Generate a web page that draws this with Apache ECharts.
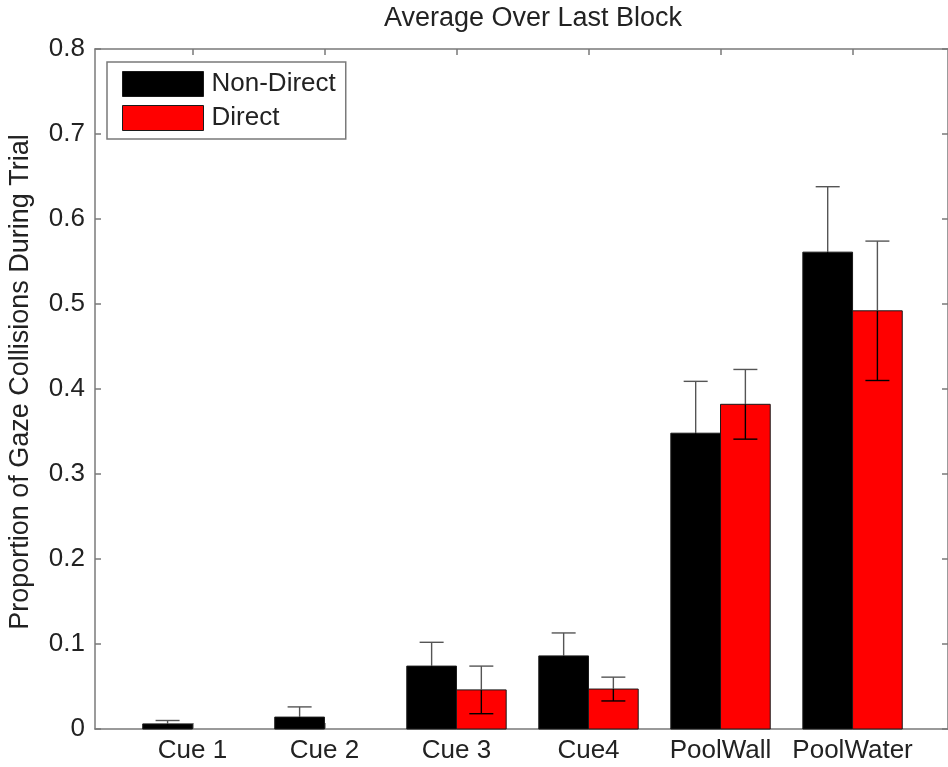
<!DOCTYPE html>
<html><head><meta charset="utf-8">
<script src="https://cdn.jsdelivr.net/npm/echarts@6/dist/echarts.min.js"></script>
<style>html,body{margin:0;padding:0;background:#fff}#c{width:948px;height:767px}</style>
</head><body><div id="c"></div>
<script>
const categories = ['Cue 1', 'Cue 2', 'Cue 3', 'Cue4', 'PoolWall', 'PoolWater'];
const nonDirect = [0.006, 0.014, 0.074, 0.086, 0.348, 0.561];
const nonDirectErr = [0.004, 0.012, 0.028, 0.027, 0.061, 0.077];
const direct = [0, 0, 0.046, 0.047, 0.382, 0.492];
const directErr = [0, 0, 0.028, 0.014, 0.041, 0.082];
const yTicks = [0, 0.1, 0.2, 0.3, 0.4, 0.5, 0.6, 0.7, 0.8];

const FONT = '"Liberation Sans", Arial, sans-serif';
const AX = '#7a7a7a';
const TXT = '#222';
const HALF = 0.3765;
const catPos = categories.map((c, i) => i + 1);

const chart = echarts.init(document.getElementById('c'), null, {renderer: 'canvas'});

function barSeries(name, values, side, color) {
  return {
    type: 'custom', name, xAxisIndex: 0, yAxisIndex: 0, z: 3,
    itemStyle: {color},
    data: values.map((v, i) => [i + 1, v]),
    encode: {x: 0, y: 1},
    renderItem: (params, api) => {
      const c = api.value(0), v = api.value(1);
      if (!v) return null;
      const x0 = side < 0 ? c - HALF : c, x1 = side < 0 ? c : c + HALF;
      const p0 = api.coord([x0, v]), p1 = api.coord([x1, 0]);
      return {type: 'rect',
        shape: {x: p0[0], y: p0[1], width: p1[0] - p0[0], height: p1[1] - p0[1]},
        style: {fill: color, stroke: '#1a1a1a', lineWidth: 1}};
    }
  };
}
function errSeries(name, values, errs, side) {
  return {
    type: 'custom', name, xAxisIndex: 0, yAxisIndex: 0, z: 4, silent: true,
    data: values.map((v, i) => [i + 1, v, errs[i]]),
    encode: {x: 0, y: 1},
    renderItem: (params, api) => {
      const c = api.value(0) + side * HALF / 2, v = api.value(1), e = api.value(2);
      if (!e) return null;
      const t = api.coord([c, v + e]), m = api.coord([c, v]), b = api.coord([c, v - e]);
      const cap = 12;
      const up = {stroke: '#555', lineWidth: 1.4};
      const dn = {stroke: '#000', lineWidth: 1.4};
      return {type: 'group', children: [
        {type: 'line', shape: {x1: t[0], y1: t[1], x2: m[0], y2: m[1]}, style: up},
        {type: 'line', shape: {x1: m[0], y1: m[1], x2: b[0], y2: b[1]}, style: dn},
        {type: 'line', shape: {x1: t[0] - cap, y1: t[1], x2: t[0] + cap, y2: t[1]}, style: up},
        {type: 'line', shape: {x1: b[0] - cap, y1: b[1], x2: b[0] + cap, y2: b[1]}, style: dn}
      ]};
    }
  };
}

const xCommon = {
  type: 'value', min: 0.262, max: 6.723, gridIndex: 0,
  axisLine: {show: true, onZero: false, lineStyle: {color: AX, width: 1.5}},
  splitLine: {show: false}
};
const yCommon = {
  type: 'value', min: 0, max: 0.8, interval: 0.1,
  axisLine: {show: true, onZero: false, lineStyle: {color: AX, width: 1.5}},
  axisTick: {show: true, inside: true, length: 6, lineStyle: {color: AX, width: 1.5}},
  splitLine: {show: false}
};

chart.setOption({
  animation: false,
  grid: {left: 95, top: 49, width: 858, height: 680},
  xAxis: [
    Object.assign({}, xCommon, {position: 'bottom',
      axisTick: {show: true, inside: true, length: 6, customValues: catPos, lineStyle: {color: AX, width: 1.5}},
      axisLabel: {show: true, customValues: catPos, margin: 9,
        formatter: v => categories[Math.round(v) - 1],
        fontSize: 26, fontFamily: FONT, color: TXT}}),
    Object.assign({}, xCommon, {position: 'top',
      axisTick: {show: true, inside: true, length: 6, customValues: catPos, lineStyle: {color: AX, width: 1.5}},
      axisLabel: {show: false}})
  ],
  yAxis: [
    Object.assign({}, yCommon, {position: 'left',
      axisLabel: {show: true, margin: 10, fontSize: 26, fontFamily: FONT, color: TXT,
        formatter: v => (Math.abs(v) < 1e-9 ? '0' : (+v).toFixed(1))}}),
    Object.assign({}, yCommon, {position: 'right', axisLabel: {show: false}})
  ],
  legend: {
    orient: 'vertical', left: 107, top: 62,
    padding: [9, 10, 8, 15],
    borderColor: AX, borderWidth: 1.5,
    itemWidth: 81, itemHeight: 25, itemGap: 8, icon: 'rect',
    textStyle: {fontSize: 26, fontFamily: FONT, color: TXT, padding: [0, 0, 0, 3]},
    data: [
      {name: 'Non-Direct', itemStyle: {color: '#000', borderColor: '#1a1a1a', borderWidth: 1}},
      {name: 'Direct', itemStyle: {color: '#ff0000', borderColor: '#1a1a1a', borderWidth: 1}}
    ]
  },
  graphic: [
    {type: 'text', x: 533, y: 19, style: {text: 'Average Over Last Block', align: 'center', verticalAlign: 'middle',
      fontSize: 27, fontFamily: FONT, fill: TXT}},
    {type: 'text', x: 21, y: 382, rotation: Math.PI / 2, style: {text: 'Proportion of Gaze Collisions During Trial',
      align: 'center', verticalAlign: 'middle', fontSize: 27, fontFamily: FONT, fill: TXT}}
  ],
  series: [
    barSeries('Non-Direct', nonDirect, -1, '#000000'),
    barSeries('Direct', direct, 1, '#ff0000'),
    errSeries('errND', nonDirect, nonDirectErr, -1),
    errSeries('errD', direct, directErr, 1)
  ]
});
</script></body></html>
